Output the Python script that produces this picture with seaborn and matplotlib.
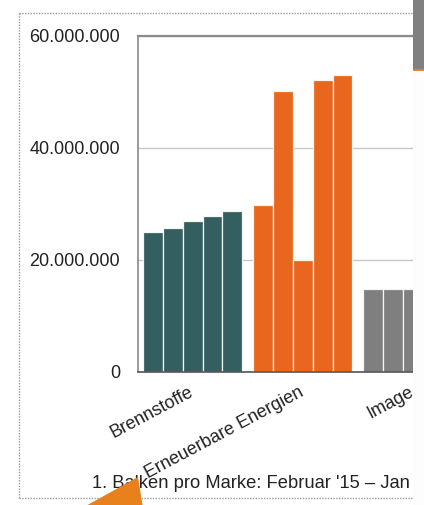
import matplotlib
matplotlib.use("Agg")
import matplotlib.pyplot as plt
import matplotlib.transforms as mtransforms
import seaborn as sns
import pandas as pd
from matplotlib.ticker import FuncFormatter
from matplotlib.patches import Rectangle, Polygon
from matplotlib.lines import Line2D

# ---- data ----
categories = ["Brennstoffe", "Erneuerbare Energien", "Image"]
slots = ["B1", "B2", "B3", "B4", "B5"]
brennstoffe = [25.0e6, 25.8e6, 27.0e6, 27.9e6, 28.8e6]
erneuerbare = [29.9e6, 50.2e6, 20.0e6, 52.1e6, 53.1e6]
image = [14.8e6, 14.8e6, 14.8e6]
yticks = [0, 20e6, 40e6, 60e6]
footnote = "1. Balken pro Marke: Februar '15 \u2013 Jan"

cat_colors = ["#335F60", "#E9661E", "#7F7F7F"]

sns.set_theme(style="white")
plt.rcParams["font.family"] = ["Liberation Sans", "DejaVu Sans"]

W, H = 424, 505
fig = plt.figure(figsize=(W / 100, H / 100), dpi=100)
fig.patch.set_facecolor("white")
ax = fig.add_axes([137.5 / W, 1 - 372 / H, (413 - 137.5) / W, (372 - 36) / H])

rows = []
for cat, vals in zip(categories, [brennstoffe, erneuerbare, image]):
    for i, v in enumerate(vals):
        rows.append({"Kategorie": cat, "Balken": slots[i], "Wert": v})
df = pd.DataFrame(rows)

sns.barplot(data=df, x="Kategorie", y="Wert", hue="Balken", hue_order=slots,
            order=categories, width=0.9, edgecolor="#f4f4f4", linewidth=0.9,
            errorbar=None, palette=["#333333"] * 5, legend=False, ax=ax)

for p in ax.patches:
    c = int(round(p.get_x() + p.get_width() / 2))
    p.set_facecolor(cat_colors[c])

ax.set_xlim(-0.5, 2.0)
ax.set_ylim(0, 60e6)
ax.set_yticks(yticks)
ax.yaxis.set_major_formatter(FuncFormatter(lambda v, _: f"{int(v):,}".replace(",", ".")))
ax.set_xticks(range(len(categories)))
ax.set_xticklabels(categories, rotation=28, ha="right", rotation_mode="anchor")
ax.set_xlabel("")
ax.set_ylabel("")
ax.tick_params(axis="y", length=0, pad=12.5, labelsize=13, labelcolor="#222222")
ax.tick_params(axis="x", length=0, pad=8.5, labelsize=13, labelcolor="#222222")
shift = mtransforms.ScaledTranslation(-4 / 100, 0, fig.dpi_scale_trans)
for lab in ax.get_xticklabels():
    lab.set_transform(lab.get_transform() + shift)

ax.yaxis.grid(True, color="#c8c8c8", lw=1)
ax.set_axisbelow(True)
ax.spines["right"].set_visible(False)
ax.spines["top"].set_color("#8a8a8a")
ax.spines["top"].set_linewidth(1.6)
ax.spines["left"].set_color("#8a8a8a")
ax.spines["left"].set_linewidth(1.2)
ax.spines["bottom"].set_color("#555555")
ax.spines["bottom"].set_linewidth(1.2)

# footnote
fig.text(92 / W, 1 - 488 / H, footnote, fontsize=13.2, color="#222222", va="baseline", ha="left")

# dotted frame
def fx(x):
    return x / W

def fy(y):
    return 1 - y / H

frame_kw = dict(color="#9a9a9a", lw=1, linestyle=(0, (1, 1)), transform=fig.transFigure)
fig.add_artist(Line2D([fx(19), fx(413)], [fy(13), fy(13)], **frame_kw))
fig.add_artist(Line2D([fx(19), fx(19)], [fy(13), fy(498)], **frame_kw))
fig.add_artist(Line2D([fx(19), fx(413)], [fy(498), fy(498)], **frame_kw))

# orange arrow head (annotation pointing at the footnote)
arrow_px = [(138, 477), (82, 508), (143, 508)]
fig.add_artist(Polygon([[fx(x), fy(y)] for x, y in arrow_px],
                       closed=True, facecolor="#E8801C", edgecolor="none",
                       transform=fig.transFigure, zorder=6))

# right strip (neighbouring slide element)
fig.add_artist(Rectangle((fx(413), 0), 1 - fx(413), 1, facecolor="#fdfdfd",
                         edgecolor="none", transform=fig.transFigure, zorder=10))
fig.add_artist(Rectangle((fx(413), fy(69)), 1 - fx(413), fy(0) - fy(69), facecolor="#808080",
                         edgecolor="none", transform=fig.transFigure, zorder=11))
fig.add_artist(Rectangle((fx(413), fy(71)), 1 - fx(413), fy(69) - fy(71), facecolor="#E8822A",
                         edgecolor="none", transform=fig.transFigure, zorder=11))

fig.savefig("out.png", dpi=100)
